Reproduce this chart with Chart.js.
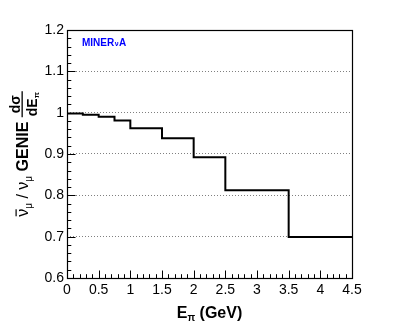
<!DOCTYPE html>
<html><head><meta charset="utf-8">
<script src="https://cdn.jsdelivr.net/npm/chart.js@4.4.0/dist/chart.umd.min.js"></script>
<style>html,body{margin:0;padding:0;background:#fff;overflow:hidden}#wrap{width:407px;height:328px;position:relative}</style>
</head><body><div id="wrap"><canvas id="c" width="407" height="328"></canvas></div>
<script>
// ---- data ----
const binEdges = [0, 0.25, 0.5, 0.75, 1.0, 1.5, 2.0, 2.5, 3.5, 4.5];
const ratio    = [0.998, 0.995, 0.990, 0.981, 0.962, 0.938, 0.892, 0.812, 0.699];
const xTickValues = [0, 0.5, 1, 1.5, 2, 2.5, 3, 3.5, 4, 4.5];
const yTickValues = [0.6, 0.7, 0.8, 0.9, 1.0, 1.1, 1.2];
const xMinorStep = 0.1;
const yMinorStep = 0.02;
const experimentLabel = ['MINER', 'ν', 'A'];
const xTitleParts = ['E', 'π', ' (GeV)'];
const yTitleParts = { nubar: 'ν', mu: 'μ', slash: ' / ', nu: 'ν', genie: ' GENIE ', num: 'dσ', den: 'dE', sub: 'π' };

const FONT = '"Liberation Sans", Arial, Helvetica, sans-serif';
const points = binEdges.map((e, i) => ({ x: e, y: ratio[Math.min(i, ratio.length - 1)] }));

const decor = {
  id: 'decor',
  afterDatasetsDraw(chart) {
    const ctx = chart.ctx, a = chart.chartArea;
    const xs = chart.scales.x, ys = chart.scales.y;
    ctx.save();
    // frame
    ctx.strokeStyle = '#000'; ctx.lineWidth = 1.2;
    ctx.strokeRect(Math.round(a.left) + 0.5, Math.round(a.top) + 0.5, Math.round(a.right - a.left), Math.round(a.bottom - a.top));
    // inside ticks
    ctx.lineWidth = 1;
    const nX = Math.round((xs.max - xs.min) / xMinorStep);
    for (let i = 0; i <= nX; i++) {
      const v = xs.min + i * xMinorStep;
      const px = Math.round(xs.getPixelForValue(v)) + 0.5;
      const len = (i % 5 === 0) ? 7.5 : 3.8;
      ctx.beginPath(); ctx.moveTo(px, a.bottom); ctx.lineTo(px, a.bottom - len); ctx.stroke();
    }
    const nY = Math.round((ys.max - ys.min) / yMinorStep);
    for (let i = 0; i <= nY; i++) {
      const v = ys.min + i * yMinorStep;
      const py = Math.round(ys.getPixelForValue(v)) + 0.5;
      const len = (i % 5 === 0) ? 8.5 : 4.3;
      ctx.beginPath(); ctx.moveTo(a.left, py); ctx.lineTo(a.left + len, py); ctx.stroke();
    }
    // experiment label
    ctx.fillStyle = '#0000ff'; ctx.textBaseline = 'alphabetic';
    let lx = a.left + 15; const ly = a.top + 15.5;
    ctx.font = 'bold 10px ' + FONT; ctx.fillText(experimentLabel[0], lx, ly); lx += ctx.measureText(experimentLabel[0]).width;
    ctx.font = 'bold 7px ' + FONT; ctx.fillText(experimentLabel[1], lx + 0.5, ly); lx += ctx.measureText(experimentLabel[1]).width + 1;
    ctx.font = 'bold 10px ' + FONT; ctx.fillText(experimentLabel[2], lx, ly);

    // x title
    ctx.fillStyle = '#000';
    const big = 'bold 16px ' + FONT, small = 'bold 10px ' + FONT;
    ctx.font = big; const w0 = ctx.measureText(xTitleParts[0]).width;
    ctx.font = small; const w1 = ctx.measureText(xTitleParts[1]).width;
    ctx.font = big; const w2 = ctx.measureText(xTitleParts[2]).width;
    const cx = (a.left + a.right) / 2;
    let tx = cx - (w0 + w1 + w2) / 2; const ty = 318;
    ctx.font = big; ctx.fillText(xTitleParts[0], tx, ty); tx += w0;
    ctx.font = small; ctx.fillText(xTitleParts[1], tx, ty + 3); tx += w1;
    ctx.font = big; ctx.fillText(xTitleParts[2], tx, ty);

    // y title (rotated)
    const p = yTitleParts;
    const fN = '16px ' + FONT, fS = '10px ' + FONT, fB = 'bold 16px ' + FONT, fF = 'bold 14px ' + FONT, fFs = 'bold 8px ' + FONT;
    const m = (f, t) => { ctx.font = f; return ctx.measureText(t).width; };
    const wNu = m(fN, p.nubar), wMu = m(fS, p.mu), wSl = m(fN, p.slash), wNu2 = m(fN, p.nu), wG = m(fB, p.genie);
    const wNum = m(fF, p.num), wDen = m(fF, p.den) + m(fFs, p.sub);
    const wFrac = Math.max(wNum, wDen) + 2;
    const total = wNu + wMu + wSl + wNu2 + wMu + wG + wFrac;
    const cy = (a.top + a.bottom) / 2;
    ctx.translate(28, cy); ctx.rotate(-Math.PI / 2);
    let rx = -total / 2;
    ctx.font = fN; ctx.fillText(p.nubar, rx, 0);
    ctx.fillRect(rx + 0.5, -12.5, wNu - 1, 1.2);
    rx += wNu;
    ctx.font = fS; ctx.fillText(p.mu, rx, 4); rx += wMu;
    ctx.font = fN; ctx.fillText(p.slash, rx, 0); rx += wSl;
    ctx.fillText(p.nu, rx, 0); rx += wNu2;
    ctx.font = fS; ctx.fillText(p.mu, rx, 4); rx += wMu;
    ctx.font = fB; ctx.fillText(p.genie, rx, 0); rx += wG;
    // fraction
    ctx.font = fF; ctx.fillText(p.num, rx + (wFrac - wNum) / 2, -8.5);
    ctx.fillRect(rx, -6.5, wFrac, 1.3);
    let dx = rx + (wFrac - wDen) / 2;
    ctx.fillText(p.den, dx, 8.5); dx += m(fF, p.den);
    ctx.font = fFs; ctx.fillText(p.sub, dx, 10.5);
    ctx.restore();
  }
};

new Chart(document.getElementById('c'), {
  type: 'line',
  data: {
    datasets: [{
      data: points,
      stepped: 'before',
      borderColor: '#000',
      borderWidth: 2,
      pointRadius: 0,
      fill: false,
      tension: 0
    }]
  },
  options: {
    responsive: false,
    devicePixelRatio: 1,
    animation: false,
    events: [],
    layout: { padding: { top: 30, right: 55, left: 0, bottom: 0 } },
    plugins: { legend: { display: false }, tooltip: { enabled: false } },
    scales: {
      x: {
        type: 'linear', min: 0, max: 4.5,
        afterBuildTicks: s => { s.ticks = xTickValues.map(v => ({ value: v })); },
        afterFit: s => { s.height = 50; },
        grid: { display: false, drawTicks: false },
        border: { display: false },
        ticks: {
          padding: 4, maxRotation: 0, autoSkip: false,
          color: '#000', font: { family: FONT, size: 14 },
          callback: v => String(parseFloat(Number(v).toFixed(2)))
        }
      },
      y: {
        type: 'linear', min: 0.6, max: 1.2,
        afterBuildTicks: s => { s.ticks = yTickValues.map(v => ({ value: v })); },
        afterFit: s => { s.width = 67; },
        grid: {
          drawTicks: false,
          color: c => (c.tick && (Math.abs(c.tick.value - 0.6) < 1e-6 || Math.abs(c.tick.value - 1.2) < 1e-6)) ? 'rgba(0,0,0,0)' : '#808080',
          lineWidth: 1
        },
        border: { display: false, dash: [1, 2] },
        ticks: {
          padding: 3, color: '#000', font: { family: FONT, size: 14 },
          callback: v => String(parseFloat(Number(v).toFixed(2)))
        }
      }
    }
  },
  plugins: [decor]
});
</script>
</body></html>
